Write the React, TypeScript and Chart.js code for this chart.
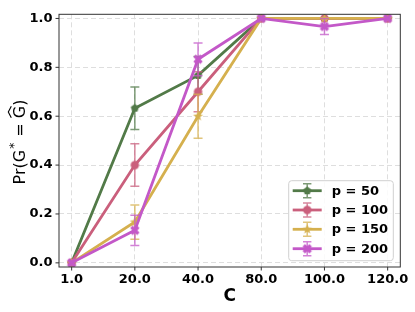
import React, { useEffect, useRef } from "react";
import { Chart, registerables } from "chart.js";

Chart.register(...registerables);

const categories = ["1.0", "20.0", "40.0", "80.0", "100.0", "120.0"];
const seriesLabels = ["p = 50", "p = 100", "p = 150", "p = 200"];
const p50 = [0, 0.633, 0.767, 1.0, 1.0, 1.0];
const p100 = [0, 0.4, 0.7, 1.0, 1.0, 1.0];
const p150 = [0, 0.167, 0.6, 1.0, 1.0, 1.0];
const p200 = [0, 0.133, 0.833, 1.0, 0.967, 1.0];
const err50 = [0, 0.087, 0.077, 0, 0, 0];
const err100 = [0, 0.087, 0.082, 0, 0, 0];
const err150 = [0, 0.07, 0.09, 0, 0, 0];
const err200 = [0, 0.062, 0.067, 0, 0.033, 0];
const yTicks = [0, 0.2, 0.4, 0.6, 0.8, 1.0];

const colors = ["#527a48", "#ca5f7c", "#d5b04e", "#c358c8"];
const errColors = [
  "rgba(82,122,72,0.75)",
  "rgba(202,95,124,0.75)",
  "rgba(213,176,78,0.75)",
  "rgba(195,88,200,0.75)",
];
const shapes = ["pentagon", "circle", "star", "x"];

function makeMarker(shape: string, r: number, color: string): HTMLCanvasElement {
  const size = Math.ceil(r * 2 + 4);
  const c = document.createElement("canvas");
  c.width = size;
  c.height = size;
  const ctx = c.getContext("2d")!;
  const cx = size / 2;
  const cy = size / 2;
  ctx.fillStyle = color;
  ctx.strokeStyle = color;
  ctx.beginPath();
  if (shape === "circle") {
    ctx.arc(cx, cy, r, 0, Math.PI * 2);
    ctx.fill();
  } else if (shape === "pentagon") {
    for (let k = 0; k < 5; k++) {
      const a = -Math.PI / 2 + (k * 2 * Math.PI) / 5;
      const x = cx + r * Math.cos(a);
      const y = cy + r * Math.sin(a);
      if (k === 0) ctx.moveTo(x, y);
      else ctx.lineTo(x, y);
    }
    ctx.closePath();
    ctx.fill();
  } else if (shape === "star") {
    for (let k = 0; k < 10; k++) {
      const a = -Math.PI / 2 + (k * Math.PI) / 5;
      const rr = k % 2 === 0 ? r : r * 0.42;
      const x = cx + rr * Math.cos(a);
      const y = cy + rr * Math.sin(a);
      if (k === 0) ctx.moveTo(x, y);
      else ctx.lineTo(x, y);
    }
    ctx.closePath();
    ctx.fill();
  } else {
    ctx.lineWidth = r * 0.75;
    const d = r * 0.75;
    ctx.moveTo(cx - d, cy - d);
    ctx.lineTo(cx + d, cy + d);
    ctx.moveTo(cx - d, cy + d);
    ctx.lineTo(cx + d, cy - d);
    ctx.stroke();
  }
  return c;
}

const AREA = { left: 59, right: 400.3, top: 10, bottom: 267 };

export default function App() {
  const ref = useRef<HTMLCanvasElement>(null);

  useEffect(() => {
    if (!ref.current) return;
    const values = [p50, p100, p150, p200];
    const errs = [err50, err100, err150, err200];
    const markerR = [4.3, 4.2, 5.2, 4.6];
    const markers = shapes.map((s, i) => makeMarker(s, markerR[i], colors[i]));

    const datasets = values.map((vals, i) => ({
      label: seriesLabels[i],
      data: vals.map((v, j) => ({ x: j, y: v })),
      borderColor: colors[i],
      backgroundColor: colors[i],
      borderWidth: 2.8,
      pointStyle: markers[i] as any,
      pointRadius: markerR[i],
      tension: 0,
      fill: false,
      order: values.length - 1 - i,
    }));

    const errorBarPlugin = {
      id: "errorBars",
      beforeDatasetDraw(chart: any, args: any) {
        const i = args.index;
        const ctx = chart.ctx;
        const xs = chart.scales.x;
        const ys = chart.scales.y;
        ctx.save();
        ctx.strokeStyle = errColors[i];
        ctx.lineWidth = 1.5;
        values[i].forEach((v, j) => {
          const e = errs[i][j];
          if (!e) return;
          const x = xs.getPixelForValue(j);
          const y1 = ys.getPixelForValue(v - e);
          const y2 = ys.getPixelForValue(v + e);
          ctx.beginPath();
          ctx.moveTo(x, y1);
          ctx.lineTo(x, y2);
          ctx.moveTo(x - 4.5, y1);
          ctx.lineTo(x + 4.5, y1);
          ctx.moveTo(x - 4.5, y2);
          ctx.lineTo(x + 4.5, y2);
          ctx.stroke();
        });
        ctx.restore();
      },
    };

    const decorPlugin = {
      id: "decor",
      afterDraw(chart: any) {
        const ctx = chart.ctx;
        const { left, right, top, bottom } = chart.chartArea;
        const xs = chart.scales.x;
        const ys = chart.scales.y;
        ctx.save();
        // frame
        ctx.strokeStyle = "#333333";
        ctx.lineWidth = 1;
        ctx.strokeRect(left, top, right - left, bottom - top);
        // tick marks
        ctx.beginPath();
        categories.forEach((_, j) => {
          const x = xs.getPixelForValue(j);
          ctx.moveTo(x, bottom);
          ctx.lineTo(x, bottom + 3.5);
        });
        yTicks.forEach((v) => {
          const y = ys.getPixelForValue(v);
          ctx.moveTo(left, y);
          ctx.lineTo(left - 3.5, y);
        });
        ctx.stroke();

        // x title
        ctx.fillStyle = "#000";
        ctx.font = 'bold 17px "DejaVu Sans"';
        ctx.textAlign = "center";
        ctx.textBaseline = "middle";
        ctx.fillText("C", (left + right) / 2, 297);

        // y title
        ctx.save();
        ctx.translate(24.5, 142);
        ctx.rotate(-Math.PI / 2);
        ctx.textBaseline = "alphabetic";
        ctx.textAlign = "left";
        const big = '16px "DejaVu Sans"';
        const small = '12px "DejaVu Sans"';
        ctx.font = big;
        const p1 = "Pr(G";
        const p3 = " = ";
        const p4 = "G";
        const p5 = ")";
        const w1 = ctx.measureText(p1).width;
        const w3 = ctx.measureText(p3).width;
        const w4 = ctx.measureText(p4).width;
        const w5 = ctx.measureText(p5).width;
        ctx.font = small;
        const w2 = ctx.measureText("*").width + 2;
        const total = w1 + w2 + w3 + w4 + w5;
        let x = -total / 2;
        ctx.font = big;
        ctx.fillText(p1, x, 0);
        x += w1;
        ctx.font = small;
        ctx.fillText("*", x + 1, -7);
        x += w2;
        ctx.font = big;
        ctx.fillText(p3, x, 0);
        x += w3;
        ctx.fillText(p4, x, 0);
        // wide hat
        ctx.strokeStyle = "#000";
        ctx.lineWidth = 1.1;
        ctx.beginPath();
        ctx.moveTo(x + 0.5, -13.2);
        ctx.lineTo(x + w4 / 2, -16.2);
        ctx.lineTo(x + w4 - 0.5, -13.2);
        ctx.stroke();
        x += w4;
        ctx.fillText(p5, x, 0);
        ctx.restore();

        // legend
        const lx = 288.7, ly = 180.7, lw = 104.6, lh = 80;
        ctx.fillStyle = "rgba(255,255,255,0.85)";
        ctx.strokeStyle = "#d0d0d0";
        ctx.lineWidth = 1;
        ctx.beginPath();
        (ctx as any).roundRect(lx, ly, lw, lh, 3);
        ctx.fill();
        ctx.stroke();
        const rows = [190.7, 210, 229.3, 248.7];
        seriesLabels.forEach((lab, i) => {
          const y = rows[i];
          ctx.strokeStyle = errColors[i];
          ctx.lineWidth = 1.5;
          ctx.beginPath();
          ctx.moveTo(307.2, y - 7);
          ctx.lineTo(307.2, y + 7);
          ctx.moveTo(303, y - 7);
          ctx.lineTo(311.4, y - 7);
          ctx.moveTo(303, y + 7);
          ctx.lineTo(311.4, y + 7);
          ctx.stroke();
          ctx.strokeStyle = colors[i];
          ctx.lineWidth = 2.8;
          ctx.beginPath();
          ctx.moveTo(292.7, y);
          ctx.lineTo(321.7, y);
          ctx.stroke();
          const m = markers[i];
          ctx.drawImage(m, 307.2 - m.width / 2, y - m.height / 2);
          ctx.fillStyle = "#000";
          ctx.font = 'bold 13px "DejaVu Sans"';
          ctx.textAlign = "left";
          ctx.textBaseline = "middle";
          ctx.fillText(lab, 331.7, y + 0.5);
        });
        ctx.restore();
      },
    };

    const chart = new Chart(ref.current, {
      type: "line",
      data: { datasets: datasets as any },
      plugins: [errorBarPlugin, decorPlugin],
      options: {
        animation: false,
        responsive: false,
        devicePixelRatio: 1,
        layout: {
          padding: { left: 0, right: 415 - AREA.right, top: AREA.top, bottom: 0 },
        },
        plugins: {
          legend: { display: false },
          tooltip: { enabled: false },
        },
        scales: {
          x: {
            type: "linear",
            min: -0.2,
            max: 5.2,
            afterBuildTicks: (s: any) => {
              s.ticks = categories.map((_, j) => ({ value: j }));
            },
            afterFit: (s: any) => {
              s.height = 312 - AREA.bottom;
            },
            ticks: {
              callback: (v: any) => categories[v as number] ?? "",
              font: { family: "DejaVu Sans", size: 13, weight: "bold" },
              color: "#000",
              padding: 5,
              maxRotation: 0,
              autoSkip: false,
            },
            grid: { color: "#dedede", lineWidth: 1, drawTicks: false },
            border: { display: false, dash: [5, 3] },
          },
          y: {
            type: "linear",
            min: -0.017,
            max: 1.017,
            afterBuildTicks: (s: any) => {
              s.ticks = yTicks.map((v) => ({ value: v }));
            },
            afterFit: (s: any) => {
              s.width = AREA.left;
            },
            ticks: {
              callback: (v: any) => Number(v).toFixed(1),
              font: { family: "DejaVu Sans", size: 13, weight: "bold" },
              color: "#000",
              padding: 6.5,
              autoSkip: false,
            },
            grid: { color: "#dedede", lineWidth: 1, drawTicks: false },
            border: { display: false, dash: [5, 3] },
          },
        },
      } as any,
    });
    return () => chart.destroy();
  }, []);

  return (
    <div style={{ position: "fixed", left: 0, top: 0, width: 415, height: 312, background: "#fff" }}>
      <canvas ref={ref} width={415} height={312} style={{ width: 415, height: 312 }} />
    </div>
  );
}
